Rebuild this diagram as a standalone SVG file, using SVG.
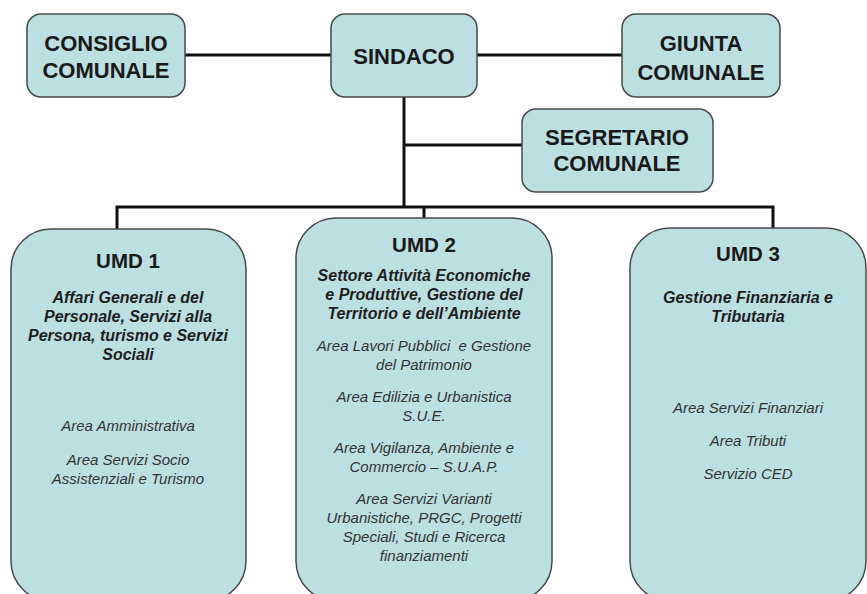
<svg xmlns="http://www.w3.org/2000/svg" width="867" height="594" viewBox="0 0 867 594">
<style>
.box{fill:#bcdfe2;stroke:#4a4a4a;stroke-width:1.5}
.hd{font-family:"Liberation Sans",Arial,sans-serif;font-weight:bold;font-size:22px;fill:#1a1a1a;text-anchor:middle}
.ti{font-family:"Liberation Sans",Arial,sans-serif;font-weight:bold;font-size:20.5px;fill:#1a1a1a;text-anchor:middle}
.bi{font-family:"Liberation Sans",Arial,sans-serif;font-weight:bold;font-style:italic;font-size:16px;fill:#1e1e1e;text-anchor:middle}
.it{font-family:"Liberation Sans",Arial,sans-serif;font-style:italic;font-size:15px;fill:#333;text-anchor:middle}
.ln{fill:none;stroke:#111;stroke-width:3}
</style>
<rect width="867" height="594" fill="#fff"/>
<g id="connectors">
<path class="ln" d="M185 55H331"/>
<path class="ln" d="M477 55H623"/>
<path class="ln" d="M404 97V207"/>
<path class="ln" d="M404 145H522"/>
<path class="ln" d="M117 229V207H773V228"/>
<path class="ln" d="M424 207V218"/>
</g>
<g id="consiglio">
<rect class="box" x="27" y="14" width="158" height="83" rx="14"/>
<text class="hd" x="106" y="51">CONSIGLIO</text>
<text class="hd" x="106" y="78">COMUNALE</text>
</g>
<g id="sindaco">
<rect class="box" x="331" y="14" width="146" height="83" rx="14"/>
<text class="hd" x="404" y="64">SINDACO</text>
</g>
<g id="giunta">
<rect class="box" x="622" y="14" width="158" height="83" rx="14"/>
<text class="hd" x="701" y="51">GIUNTA</text>
<text class="hd" x="701" y="80">COMUNALE</text>
</g>
<g id="segretario">
<rect class="box" x="522" y="109" width="191" height="83" rx="14"/>
<text class="hd" x="617" y="145">SEGRETARIO</text>
<text class="hd" x="617" y="171">COMUNALE</text>
</g>
<g id="umd1">
<rect class="box" x="11" y="229" width="235" height="372" rx="40"/>
<text class="ti" x="128" y="268">UMD 1</text>
<text class="bi" x="128" y="303">Affari Generali e del</text>
<text class="bi" x="128" y="322">Personale, Servizi alla</text>
<text class="bi" x="128" y="341">Persona, turismo e Servizi</text>
<text class="bi" x="128" y="360">Sociali</text>
<text class="it" x="128" y="431">Area Amministrativa</text>
<text class="it" x="128" y="465">Area Servizi Socio</text>
<text class="it" x="128" y="484">Assistenziali e Turismo</text>
</g>
<g id="umd2">
<rect class="box" x="296" y="218" width="256" height="383" rx="40"/>
<text class="ti" x="424" y="252">UMD 2</text>
<text class="bi" x="424" y="281">Settore Attività Economiche</text>
<text class="bi" x="424" y="300">e Produttive, Gestione del</text>
<text class="bi" x="424" y="319">Territorio e dell’Ambiente</text>
<text class="it" x="424" y="351" style="white-space:pre">Area Lavori Pubblici  e Gestione</text>
<text class="it" x="424" y="370">del Patrimonio</text>
<text class="it" x="424" y="402">Area Edilizia e Urbanistica</text>
<text class="it" x="424" y="421">S.U.E.</text>
<text class="it" x="424" y="453">Area Vigilanza, Ambiente e</text>
<text class="it" x="424" y="472">Commercio – S.U.A.P.</text>
<text class="it" x="424" y="504">Area Servizi Varianti</text>
<text class="it" x="424" y="523">Urbanistiche, PRGC, Progetti</text>
<text class="it" x="424" y="542">Speciali, Studi e Ricerca</text>
<text class="it" x="424" y="561">finanziamenti</text>
</g>
<g id="umd3">
<rect class="box" x="630" y="228" width="236" height="373" rx="40"/>
<text class="ti" x="748" y="261">UMD 3</text>
<text class="bi" x="748" y="303">Gestione Finanziaria e</text>
<text class="bi" x="748" y="322">Tributaria</text>
<text class="it" x="748" y="413">Area Servizi Finanziari</text>
<text class="it" x="748" y="446">Area Tributi</text>
<text class="it" x="748" y="479">Servizio CED</text>
</g>
</svg>
